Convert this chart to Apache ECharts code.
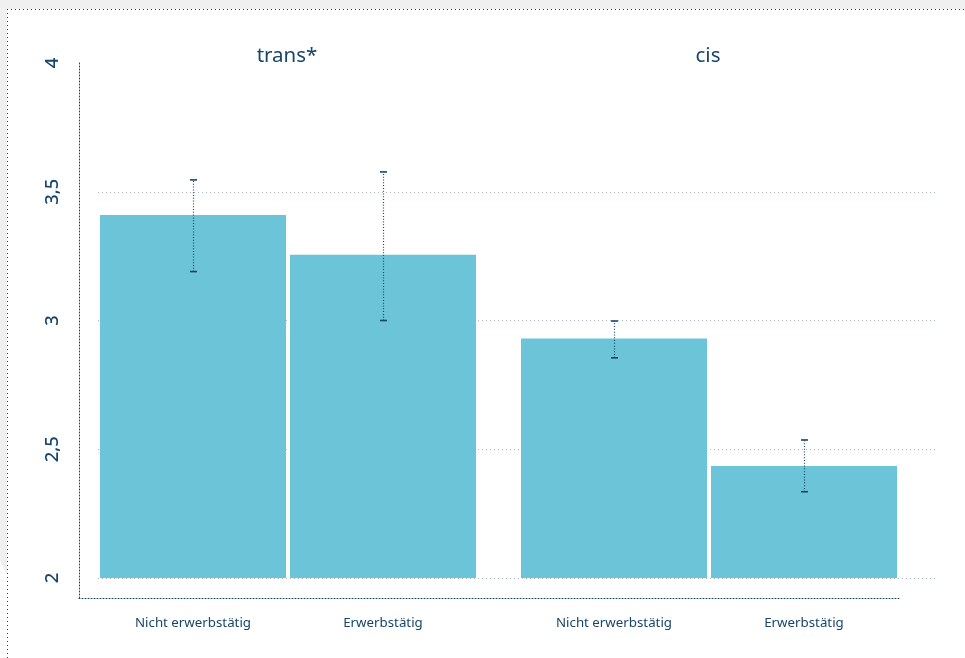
<!DOCTYPE html>
<html>
<head>
<meta charset="utf-8">
<script src="https://cdn.jsdelivr.net/npm/echarts@6/dist/echarts.min.js"></script>
<style>
html,body{margin:0;padding:0;background:#ffffff;}
#chart{width:965px;height:658px;}
</style>
</head>
<body>
<div id="chart"></div>
<script>
var categories = ['Nicht erwerbstätig', 'Erwerbstätig'];
var groupNames = ['trans*', 'cis'];
var transMeans = [3.41, 3.255];
var transLow = [3.19, 3.0];
var transHigh = [3.546, 3.577];
var cisMeans = [2.93, 2.435];
var cisLow = [2.855, 2.335];
var cisHigh = [2.998, 2.536];
var yMin = 2, yMax = 4, yStep = 0.5;

var navy = '#17456b';
var barColor = '#6bc4d8';
var gridColor = '#a9b7c7';
var fontFam = '"Noto Sans", "Open Sans", sans-serif';

function errData(low, high) {
  return categories.map(function (c, i) { return [i, low[i], high[i]]; });
}
function errRender(params, api) {
  var x = Math.round(api.coord([api.value(0), 0])[0]) + 0.5;
  var lo = api.coord([api.value(0), api.value(1)]);
  var hi = api.coord([api.value(0), api.value(2)]);
  var cap = 3.5;
  return {
    type: 'group',
    children: [
      { type: 'line', shape: { x1: x, y1: lo[1], x2: x, y2: hi[1] },
        style: { stroke: navy, lineWidth: 1.2, lineDash: [1, 1.8] } },
      { type: 'line', shape: { x1: x - cap, y1: lo[1], x2: x + cap, y2: lo[1] },
        style: { stroke: navy, lineWidth: 1.6 } },
      { type: 'line', shape: { x1: x - cap, y1: hi[1], x2: x + cap, y2: hi[1] },
        style: { stroke: navy, lineWidth: 1.6 } }
    ]
  };
}

var hiddenY = { type: 'value', min: yMin, max: yMax, interval: yStep, show: false };
function catX(gi) {
  return {
    type: 'category', gridIndex: gi, data: categories,
    axisLine: { show: false }, axisTick: { show: false },
    axisLabel: { color: navy, fontSize: 13.3, fontFamily: fontFam, margin: 39 }
  };
}

var chart = echarts.init(document.getElementById('chart'));
chart.setOption({
  animation: false,
  backgroundColor: '#ffffff',
  graphic: [
    { type: 'rect', shape: { x: 0, y: 0, width: 965, height: 9 }, style: { fill: '#f0f0f0' }, z: -10 },
    { type: 'polygon', shape: { points: [[0, 0], [7, 0], [7, 575], [0, 560]] }, style: { fill: '#f0f0f0' }, z: -10 },
    { type: 'line', shape: { x1: 7, y1: 9.5, x2: 965, y2: 9.5 }, style: { stroke: navy, lineWidth: 1, lineDash: [1, 3] } },
    { type: 'line', shape: { x1: 7.5, y1: 9, x2: 7.5, y2: 658 }, style: { stroke: navy, lineWidth: 1, lineDash: [1, 3] } }
  ],
  title: [
    { text: groupNames[0], left: 282, top: 41, textAlign: 'center',
      textStyle: { color: navy, fontSize: 20.5, fontWeight: 'normal', fontFamily: fontFam } },
    { text: groupNames[1], left: 703, top: 41, textAlign: 'center',
      textStyle: { color: navy, fontSize: 20.5, fontWeight: 'normal', fontFamily: fontFam } }
  ],
  grid: [
    { left: 98, right: 28, top: 63, bottom: 80 },
    { left: 98, width: 380, top: 63, bottom: 80 },
    { left: 519, width: 380, top: 63, bottom: 80 },
    { left: 79, right: 65, top: 63, bottom: 60 }
  ],
  xAxis: [
    { type: 'value', gridIndex: 0, show: false, min: 0, max: 1 },
    catX(1),
    catX(2),
    { type: 'value', gridIndex: 3, min: 0, max: 1,
      axisLine: { show: true, onZero: false, lineStyle: { color: navy, type: [1, 2], width: 1 } },
      axisTick: { show: false }, axisLabel: { show: false }, splitLine: { show: false } }
  ],
  yAxis: [
    { type: 'value', gridIndex: 0, min: yMin, max: yMax, interval: yStep,
      axisLine: { show: false }, axisTick: { show: false },
      axisLabel: { rotate: 90, color: navy, fontSize: 18.5, fontWeight: 500, fontFamily: fontFam, margin: 36,
        formatter: function (v) { return String(v).replace('.', ','); } },
      splitLine: { show: true, lineStyle: { color: [gridColor, gridColor, gridColor, gridColor, 'rgba(0,0,0,0)'], type: [1, 3], width: 1 } } },
    Object.assign({ gridIndex: 1 }, hiddenY),
    Object.assign({ gridIndex: 2 }, hiddenY),
    { type: 'value', gridIndex: 3, min: 0, max: 1,
      axisLine: { show: true, onZero: false, lineStyle: { color: navy, type: [1, 2], width: 1 } },
      axisTick: { show: false }, axisLabel: { show: false }, splitLine: { show: false } }
  ],
  series: [
    { type: 'bar', xAxisIndex: 1, yAxisIndex: 1, data: transMeans, barWidth: 186,
      itemStyle: { color: barColor } },
    { type: 'bar', xAxisIndex: 2, yAxisIndex: 2, data: cisMeans, barWidth: 186,
      itemStyle: { color: barColor } },
    { type: 'custom', xAxisIndex: 1, yAxisIndex: 1, renderItem: errRender, data: errData(transLow, transHigh), z: 5 },
    { type: 'custom', xAxisIndex: 2, yAxisIndex: 2, renderItem: errRender, data: errData(cisLow, cisHigh), z: 5 }
  ]
});
</script>
</body>
</html>
